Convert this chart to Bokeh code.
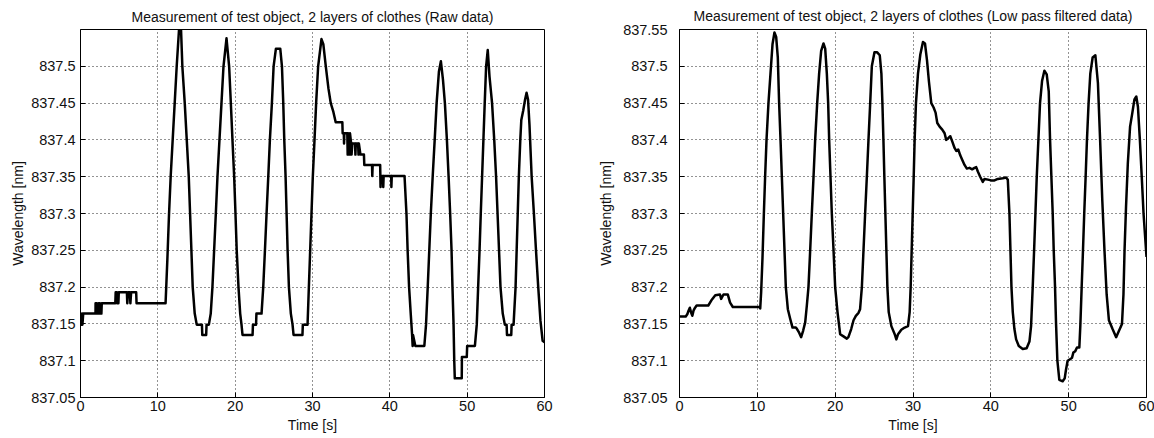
from bokeh.plotting import figure
from bokeh.layouts import row
from bokeh.models import FixedTicker
from bokeh.embed import file_html
from bokeh.resources import INLINE

# ---------------- data ----------------
titles = ["Measurement of test object, 2 layers of clothes (Raw data)",
          "Measurement of test object, 2 layers of clothes (Low pass filtered data)"]
x_label = "Time [s]"
y_label = "Wavelength [nm]"

x_ticks = [0, 10, 20, 30, 40, 50, 60]
x_tick_labels = ["0", "10", "20", "30", "40", "50", "60"]
y_ticks = [837.05, 837.1, 837.15, 837.2, 837.25, 837.3, 837.35, 837.4, 837.45, 837.5, 837.55]
y_tick_labels = ["837.05", "837.1", "837.15", "837.2", "837.25", "837.3", "837.35",
                 "837.4", "837.45", "837.5", "837.55"]

raw_t = [0.0, 0.05, 0.15, 0.2, 0.25, 0.35, 1.94, 1.95, 2.1, 2.15, 2.3, 2.35, 2.5, 2.55, 2.7, 2.75,
         4.5, 4.55, 4.7, 4.75, 4.9, 4.95, 6.0, 6.05, 6.15, 6.4, 6.45, 6.55, 7.2, 7.25, 11.0,
         11.23, 11.45, 11.66, 11.92, 12.18, 12.44, 12.74, 13.0,
         13.17, 13.48, 13.74, 14.0, 14.17, 14.34, 14.51, 14.77, 15.03, 15.7, 15.75, 16.25, 16.3, 16.6,
         16.84, 17.06, 17.28, 17.5, 17.71, 17.97, 18.23, 18.49, 18.88,
         19.22, 19.44, 19.65, 19.87, 20.04, 20.2, 20.43, 20.65, 20.82, 20.95, 22.25, 22.3, 22.7, 22.75, 23.41,
         23.63, 23.85, 24.06, 24.28, 24.49, 24.75, 24.97, 25.27, 25.83,
         26.05, 26.22, 26.35, 26.52, 26.65, 26.78, 26.95, 27.2, 27.42, 27.55, 28.7, 28.75, 29.36,
         29.53, 29.7, 29.87, 30.04, 30.26, 30.47, 30.73, 31.16, 31.4,
         31.72, 32.06, 32.36, 32.7, 33.0, 33.86, 33.9, 34.05, 34.08, 34.12, 34.5, 34.55, 34.6, 34.75,
         34.8, 34.85, 35.0, 35.05, 35.15, 35.5, 35.55, 35.6, 35.9, 35.95, 36.0, 36.2, 36.65, 36.7,
         37.7, 37.73, 37.78, 38.75, 38.8, 38.85, 39.12, 39.15, 39.2, 40.18, 40.2, 40.25, 41.9,
         42.15, 42.3, 42.49, 42.7, 42.88, 42.95, 43.0, 43.3, 44.46,
         44.68, 44.9, 45.1, 45.3, 45.54, 45.8, 46.05, 46.35, 46.6,
         46.87, 47.12, 47.38, 47.6, 47.8, 47.98, 48.1, 48.24, 48.33, 48.4, 49.3, 49.32, 49.95, 50.0, 51.0,
         51.24, 51.42, 51.6, 51.76, 51.93, 52.1, 52.27, 52.45, 52.66,
         52.89, 53.22, 53.5, 53.74, 53.93, 54.12, 54.31, 54.6, 54.87, 55.1, 55.15, 55.7, 55.75, 56.0,
         56.26, 56.4, 56.54, 56.68, 56.87, 57.0, 57.25, 57.49, 57.68, 57.87,
         58.06, 58.34, 58.63, 58.9, 59.19, 59.48, 59.76, 60.0]
raw_wl = [837.164, 837.149, 837.149, 837.164, 837.149, 837.164, 837.164, 837.178, 837.178, 837.164,
          837.164, 837.178, 837.178, 837.164, 837.164, 837.178,
          837.178, 837.193, 837.193, 837.178, 837.178, 837.193, 837.193, 837.178, 837.193, 837.193,
          837.178, 837.193, 837.193, 837.178, 837.178,
          837.237, 837.30, 837.35, 837.40, 837.45, 837.50, 837.55, 837.55,
          837.50, 837.45, 837.40, 837.35, 837.30, 837.25, 837.20, 837.164, 837.149, 837.149, 837.135,
          837.135, 837.149, 837.149,
          837.164, 837.20, 837.25, 837.30, 837.35, 837.40, 837.45, 837.50, 837.538,
          837.50, 837.45, 837.40, 837.35, 837.30, 837.25, 837.20, 837.164, 837.149, 837.135, 837.135,
          837.149, 837.149, 837.164, 837.164,
          837.20, 837.25, 837.30, 837.35, 837.40, 837.45, 837.50, 837.524, 837.524,
          837.50, 837.45, 837.40, 837.35, 837.30, 837.25, 837.20, 837.164, 837.149, 837.135, 837.135,
          837.149, 837.149,
          837.20, 837.25, 837.30, 837.35, 837.40, 837.45, 837.50, 837.537, 837.53,
          837.50, 837.47, 837.45, 837.438, 837.424, 837.424, 837.409, 837.409, 837.395, 837.409,
          837.409, 837.38, 837.409, 837.395, 837.38, 837.409, 837.395, 837.38, 837.395, 837.395,
          837.38, 837.395, 837.395, 837.38, 837.395, 837.38, 837.38, 837.366,
          837.366, 837.351, 837.366, 837.366, 837.336, 837.351, 837.351, 837.336, 837.351, 837.351,
          837.336, 837.351, 837.351,
          837.30, 837.25, 837.20, 837.164, 837.135, 837.12, 837.135, 837.12, 837.12,
          837.149, 837.20, 837.25, 837.30, 837.35, 837.40, 837.45, 837.493, 837.507,
          837.482, 837.45, 837.40, 837.35, 837.30, 837.25, 837.20, 837.149, 837.10, 837.076, 837.076,
          837.105, 837.105, 837.12, 837.12,
          837.149, 837.20, 837.25, 837.30, 837.35, 837.40, 837.45, 837.50, 837.522,
          837.486, 837.45, 837.40, 837.35, 837.30, 837.25, 837.20, 837.164, 837.149, 837.149, 837.135,
          837.135, 837.149, 837.149,
          837.20, 837.25, 837.30, 837.35, 837.40, 837.427, 837.44, 837.455, 837.464, 837.455,
          837.42, 837.35, 837.30, 837.25, 837.20, 837.154, 837.127, 837.125]

filt_t = [0.0, 0.8, 1.0, 1.16, 1.33, 1.5, 1.65, 1.8, 2.0, 2.2, 3.7, 4.1, 4.6, 5.2, 5.35, 5.65, 6.2,
          6.5, 6.85, 10.28, 10.37,
          10.49, 10.66, 10.84, 11.0, 11.18, 11.43, 11.69, 11.95, 12.2, 12.42,
          12.63, 12.8, 12.98, 13.15, 13.32, 13.49, 13.66, 13.92, 14.22, 14.52, 14.95, 15.1, 15.37, 15.63,
          15.89, 16.15, 16.36, 16.57,
          16.79, 17.0, 17.22, 17.43, 17.69, 17.94, 18.2, 18.5, 18.72,
          18.93, 19.1, 19.23, 19.4, 19.57, 19.79, 20.0, 20.3, 20.64, 21.07, 21.5, 21.7, 22.06, 22.36,
          22.66, 23.0, 23.2,
          23.43, 23.64, 23.85, 24.07, 24.28, 24.5, 24.71, 25.05, 25.4, 25.73,
          25.94, 26.07, 26.2, 26.32, 26.45, 26.58, 26.71, 26.88, 27.22, 27.65, 27.86, 28.08, 28.5, 28.93,
          29.36, 29.57,
          29.7, 29.83, 29.96, 30.09, 30.21, 30.38, 30.64, 30.94, 31.28, 31.54, 31.8, 32.05, 32.35, 32.65,
          32.9, 33.12, 33.42, 33.76, 34.06, 34.27, 34.49, 34.79, 35.04, 35.34, 35.56, 35.81, 36.07,
          36.32, 36.62, 36.92, 37.26, 37.6, 37.9, 38.12, 38.33, 38.63, 38.97, 39.19, 39.62, 40.04,
          40.47, 40.9, 41.54, 41.97, 42.18,
          42.39, 42.52, 42.65, 42.82, 43.03, 43.25, 43.59, 44.1, 44.6, 44.96, 45.17, 45.38,
          45.56, 45.73, 45.9, 46.11, 46.32, 46.58, 46.88, 47.18, 47.44,
          47.61, 47.78, 47.95, 48.08, 48.25, 48.38, 48.55, 48.8, 49.23, 49.49, 49.66, 49.87, 50.17,
          50.43, 50.6, 50.85, 51.07, 51.37, 51.5,
          51.67, 51.84, 52.0, 52.18, 52.35, 52.56, 52.78, 53.08, 53.43,
          53.76, 54.04, 54.32, 54.6, 54.88, 55.17, 55.64, 56.1, 56.48, 56.85,
          57.04, 57.18, 57.37, 57.6, 57.89, 58.17, 58.45, 58.69, 58.9,
          59.15, 59.39, 59.62, 60.0]
filt_wl = [837.160, 837.160, 837.163, 837.168, 837.172, 837.165, 837.161, 837.168, 837.172, 837.175,
           837.175, 837.182, 837.189, 837.19, 837.184, 837.19, 837.19, 837.179, 837.173, 837.173, 837.171,
           837.193, 837.239, 837.30, 837.35, 837.40, 837.45, 837.49, 837.53, 837.546, 837.54,
           837.512, 837.45, 837.40, 837.35, 837.30, 837.25, 837.20, 837.17, 837.157, 837.145, 837.145,
           837.143, 837.138, 837.132, 837.141, 837.152, 837.175, 837.20,
           837.25, 837.30, 837.35, 837.40, 837.45, 837.49, 837.521, 837.531, 837.524,
           837.49, 837.45, 837.40, 837.35, 837.30, 837.25, 837.20, 837.166, 837.136, 837.133, 837.13,
           837.132, 837.143, 837.155, 837.161, 837.165, 837.17,
           837.20, 837.25, 837.30, 837.35, 837.40, 837.45, 837.50, 837.519, 837.519, 837.515,
           837.49, 837.45, 837.40, 837.35, 837.30, 837.25, 837.20, 837.166, 837.147, 837.136, 837.129,
           837.136, 837.142, 837.145, 837.147, 837.166,
           837.20, 837.25, 837.30, 837.35, 837.40, 837.45, 837.49, 837.516, 837.533, 837.531, 837.508,
           837.479, 837.45, 837.444, 837.437, 837.423, 837.418, 837.414, 837.409, 837.40, 837.402,
           837.405, 837.398, 837.389, 837.385, 837.387, 837.379, 837.373, 837.366, 837.361, 837.362,
           837.36, 837.362, 837.363, 837.357, 837.35, 837.343, 837.347, 837.346, 837.345, 837.345,
           837.347, 837.348, 837.349, 837.346,
           837.30, 837.25, 837.20, 837.166, 837.143, 837.129, 837.12, 837.116, 837.117, 837.126,
           837.147, 837.20,
           837.25, 837.30, 837.35, 837.40, 837.45, 837.48, 837.494, 837.489, 837.466,
           837.40, 837.35, 837.30, 837.25, 837.20, 837.15, 837.10, 837.074, 837.072, 837.076, 837.088,
           837.10, 837.102, 837.104, 837.111, 837.113, 837.118, 837.118, 837.148,
           837.20, 837.25, 837.30, 837.35, 837.40, 837.45, 837.49, 837.512, 837.515,
           837.477, 837.40, 837.318, 837.25, 837.19, 837.155, 837.143, 837.132, 837.141, 837.15,
           837.19, 837.25, 837.309, 837.368, 837.418, 837.436, 837.455, 837.459, 837.445,
           837.40, 837.35, 837.30, 837.241]

FONT = "Liberation Sans"


def make_panel(title, t, wl, border_left, border_right, border_top, y_ticks_shown,
               label_standoff, ylabel_standoff, title_standoff):
    p = figure(width=577, height=438, x_range=(0, 60), y_range=(837.05, 837.55),
               output_backend="svg", toolbar_location=None,
               min_border_left=border_left, min_border_right=border_right,
               min_border_top=border_top, min_border_bottom=41,
               background_fill_color="white", border_fill_color="white")
    p.title.text = title
    p.title.align = "center"
    p.title.text_font = FONT
    p.title.text_font_size = "14px"
    p.title.text_font_style = "normal"
    p.title.text_color = "#111111"
    p.title.standoff = title_standoff

    p.line(t, wl, line_color="black", line_width=2.5, line_join="round")

    p.xaxis.ticker = FixedTicker(ticks=x_ticks)
    p.xaxis.major_label_overrides = dict(zip(x_ticks, x_tick_labels))
    p.yaxis.ticker = FixedTicker(ticks=y_ticks_shown)
    p.yaxis.major_label_overrides = {v: lab for v, lab in zip(y_ticks, y_tick_labels)
                                     if v in y_ticks_shown}

    for ax in (p.xaxis, p.yaxis):
        ax.axis_line_color = "black"
        ax.major_tick_line_color = "black"
        ax.major_tick_in = 5
        ax.major_tick_out = 0
        ax.minor_tick_line_color = None
        ax.major_label_text_font = FONT
        ax.major_label_text_font_size = "14.5px"
        ax.major_label_text_color = "#111111"
        ax.axis_label_text_font = FONT
        ax.axis_label_text_font_size = "14px"
        ax.axis_label_text_font_style = "normal"
        ax.axis_label_text_color = "#111111"

    p.xaxis.axis_label = x_label
    p.yaxis.axis_label = y_label
    p.xaxis.major_label_standoff = 3
    p.xaxis.axis_label_standoff = 3
    p.yaxis.major_label_standoff = label_standoff
    p.yaxis.axis_label_standoff = ylabel_standoff

    for g in (p.xgrid, p.ygrid):
        g.grid_line_color = "black"
        g.grid_line_dash = "1 3"
        g.grid_line_width = 1
        g.grid_line_alpha = 0.85

    p.outline_line_color = "black"
    p.outline_line_alpha = 1
    p.outline_line_width = 1
    return p


p1 = make_panel(titles[0], raw_t, raw_wl, 80, 33, 10, y_ticks[:-1], 5, 2, 9)
p2 = make_panel(titles[1], filt_t, filt_wl, 102, 8, 10, y_ticks, 12, 6, 11)

layout = row(p1, p2)
open("out.html", "w").write(file_html(layout, INLINE))
